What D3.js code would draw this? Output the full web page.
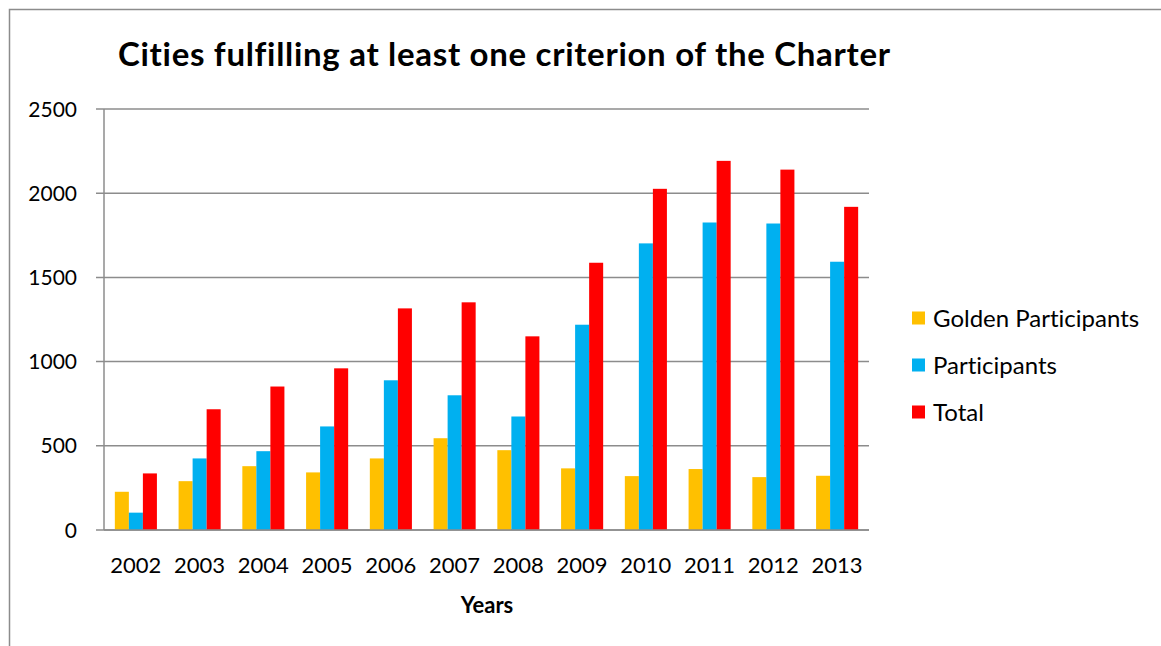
<!DOCTYPE html>
<html lang="en">
<head>
<meta charset="UTF-8">
<title>Cities fulfilling at least one criterion of the Charter</title>
<style>
    body { margin: 0; background: #fff; overflow: hidden; }
    svg { display: block; }
    text { font-family: Lato, "Open Sans", sans-serif; fill: #000; font-variant-ligatures: none; }
    .grid line { stroke: #8c8c8c; stroke-width: 1.5px; }
</style>
</head>
<body>
<svg id="chart" width="1161" height="646"></svg>
<script src="https://d3js.org/d3.v7.min.js"></script>
<script>
    const years = ["2002", "2003", "2004", "2005", "2006", "2007", "2008", "2009", "2010", "2011", "2012", "2013"];
    const golden = [227, 290, 379, 342, 425, 545, 474, 366, 320, 362, 314, 322];
    const participants = [103, 425, 468, 615, 889, 800, 674, 1219, 1702, 1826, 1820, 1593];
    const total = [336, 717, 852, 960, 1316, 1352, 1150, 1587, 2026, 2192, 2140, 1919];
    const seriesNames = ["Golden Participants", "Participants", "Total"];
    const seriesColors = ["#FFC000", "#00B0F0", "#FF0000"];
    const yTicks = [0, 500, 1000, 1500, 2000, 2500];

    const series = [golden, participants, total];
    const svg = d3.select("#chart");

    // chart border
    svg.append("rect")
        .attr("x", 9.5).attr("y", 9.5)
        .attr("width", 1160).attr("height", 650)
        .attr("fill", "none").attr("stroke", "#8c8c8c").attr("stroke-width", 1.5);

    const plotLeft = 104, plotRight = 869, plotTop = 109, plotBottom = 530;

    const x = d3.scaleBand().domain(years).range([plotLeft, plotRight])
        .paddingInner(0.34).paddingOuter(0.17);
    const xs = d3.scaleBand().domain(d3.range(3)).range([0, x.bandwidth()]);
    const y = d3.scaleLinear().domain([0, 2500]).range([plotBottom, plotTop]);

    // gridlines
    svg.append("g").attr("class", "grid")
        .selectAll("line").data(yTicks).join("line")
        .attr("x1", plotLeft - 8).attr("x2", plotRight)
        .attr("y1", d => y(d)).attr("y2", d => y(d));

    // y axis line
    svg.append("line")
        .attr("x1", plotLeft).attr("x2", plotLeft).attr("y1", plotTop).attr("y2", plotBottom)
        .attr("stroke", "#8c8c8c").attr("stroke-width", 1.5);

    // y tick labels
    svg.append("g").selectAll("text").data(yTicks).join("text")
        .attr("x", plotLeft - 27).attr("y", d => y(d))
        .attr("dy", "0.36em")
        .attr("text-anchor", "end")
        .style("font-size", "21px")
        .text(d => d);

    // bars
    const groups = svg.append("g").selectAll("g").data(years).join("g")
        .attr("transform", d => `translate(${x(d)},0)`);
    groups.selectAll("rect")
        .data((d, i) => series.map((s, k) => ({k: k, v: s[i]})))
        .join("rect")
        .attr("x", d => xs(d.k))
        .attr("width", xs.bandwidth())
        .attr("y", d => y(d.v))
        .attr("height", d => y(0) - y(d.v))
        .attr("fill", d => seriesColors[d.k]);

    // redraw baseline on top of bars
    svg.append("line")
        .attr("x1", plotLeft).attr("x2", plotRight).attr("y1", plotBottom).attr("y2", plotBottom)
        .attr("stroke", "#8c8c8c").attr("stroke-width", 1.5);

    // x labels
    svg.append("g").selectAll("text").data(years).join("text")
        .attr("x", d => x(d) + x.bandwidth() / 2)
        .attr("y", 573)
        .attr("text-anchor", "middle")
        .style("font-size", "22px")
        .text(d => d);

    svg.append("text")
        .attr("x", 487).attr("y", 613)
        .attr("text-anchor", "middle")
        .style("font-size", "22px").style("font-weight", "bold")
        .text("Years");

    // title
    svg.append("text")
        .attr("x", 504).attr("y", 66)
        .attr("text-anchor", "middle")
        .attr("textLength", 772).attr("lengthAdjust", "spacing")
        .style("font-size", "33px").style("font-weight", "bold")
        .text("Cities fulfilling at least one criterion of the Charter");

    // legend
    const legend = svg.append("g").selectAll("g").data(seriesNames).join("g")
        .attr("transform", (d, i) => `translate(912,${318 + i * 47})`);
    legend.append("rect")
        .attr("x", 0).attr("y", -6.5).attr("width", 13).attr("height", 13)
        .attr("fill", (d, i) => seriesColors[i]);
    legend.append("text")
        .attr("x", 21).attr("y", 0).attr("dy", "0.36em")
        .style("font-size", "24px")
        .text(d => d);
</script>
</body>
</html>
